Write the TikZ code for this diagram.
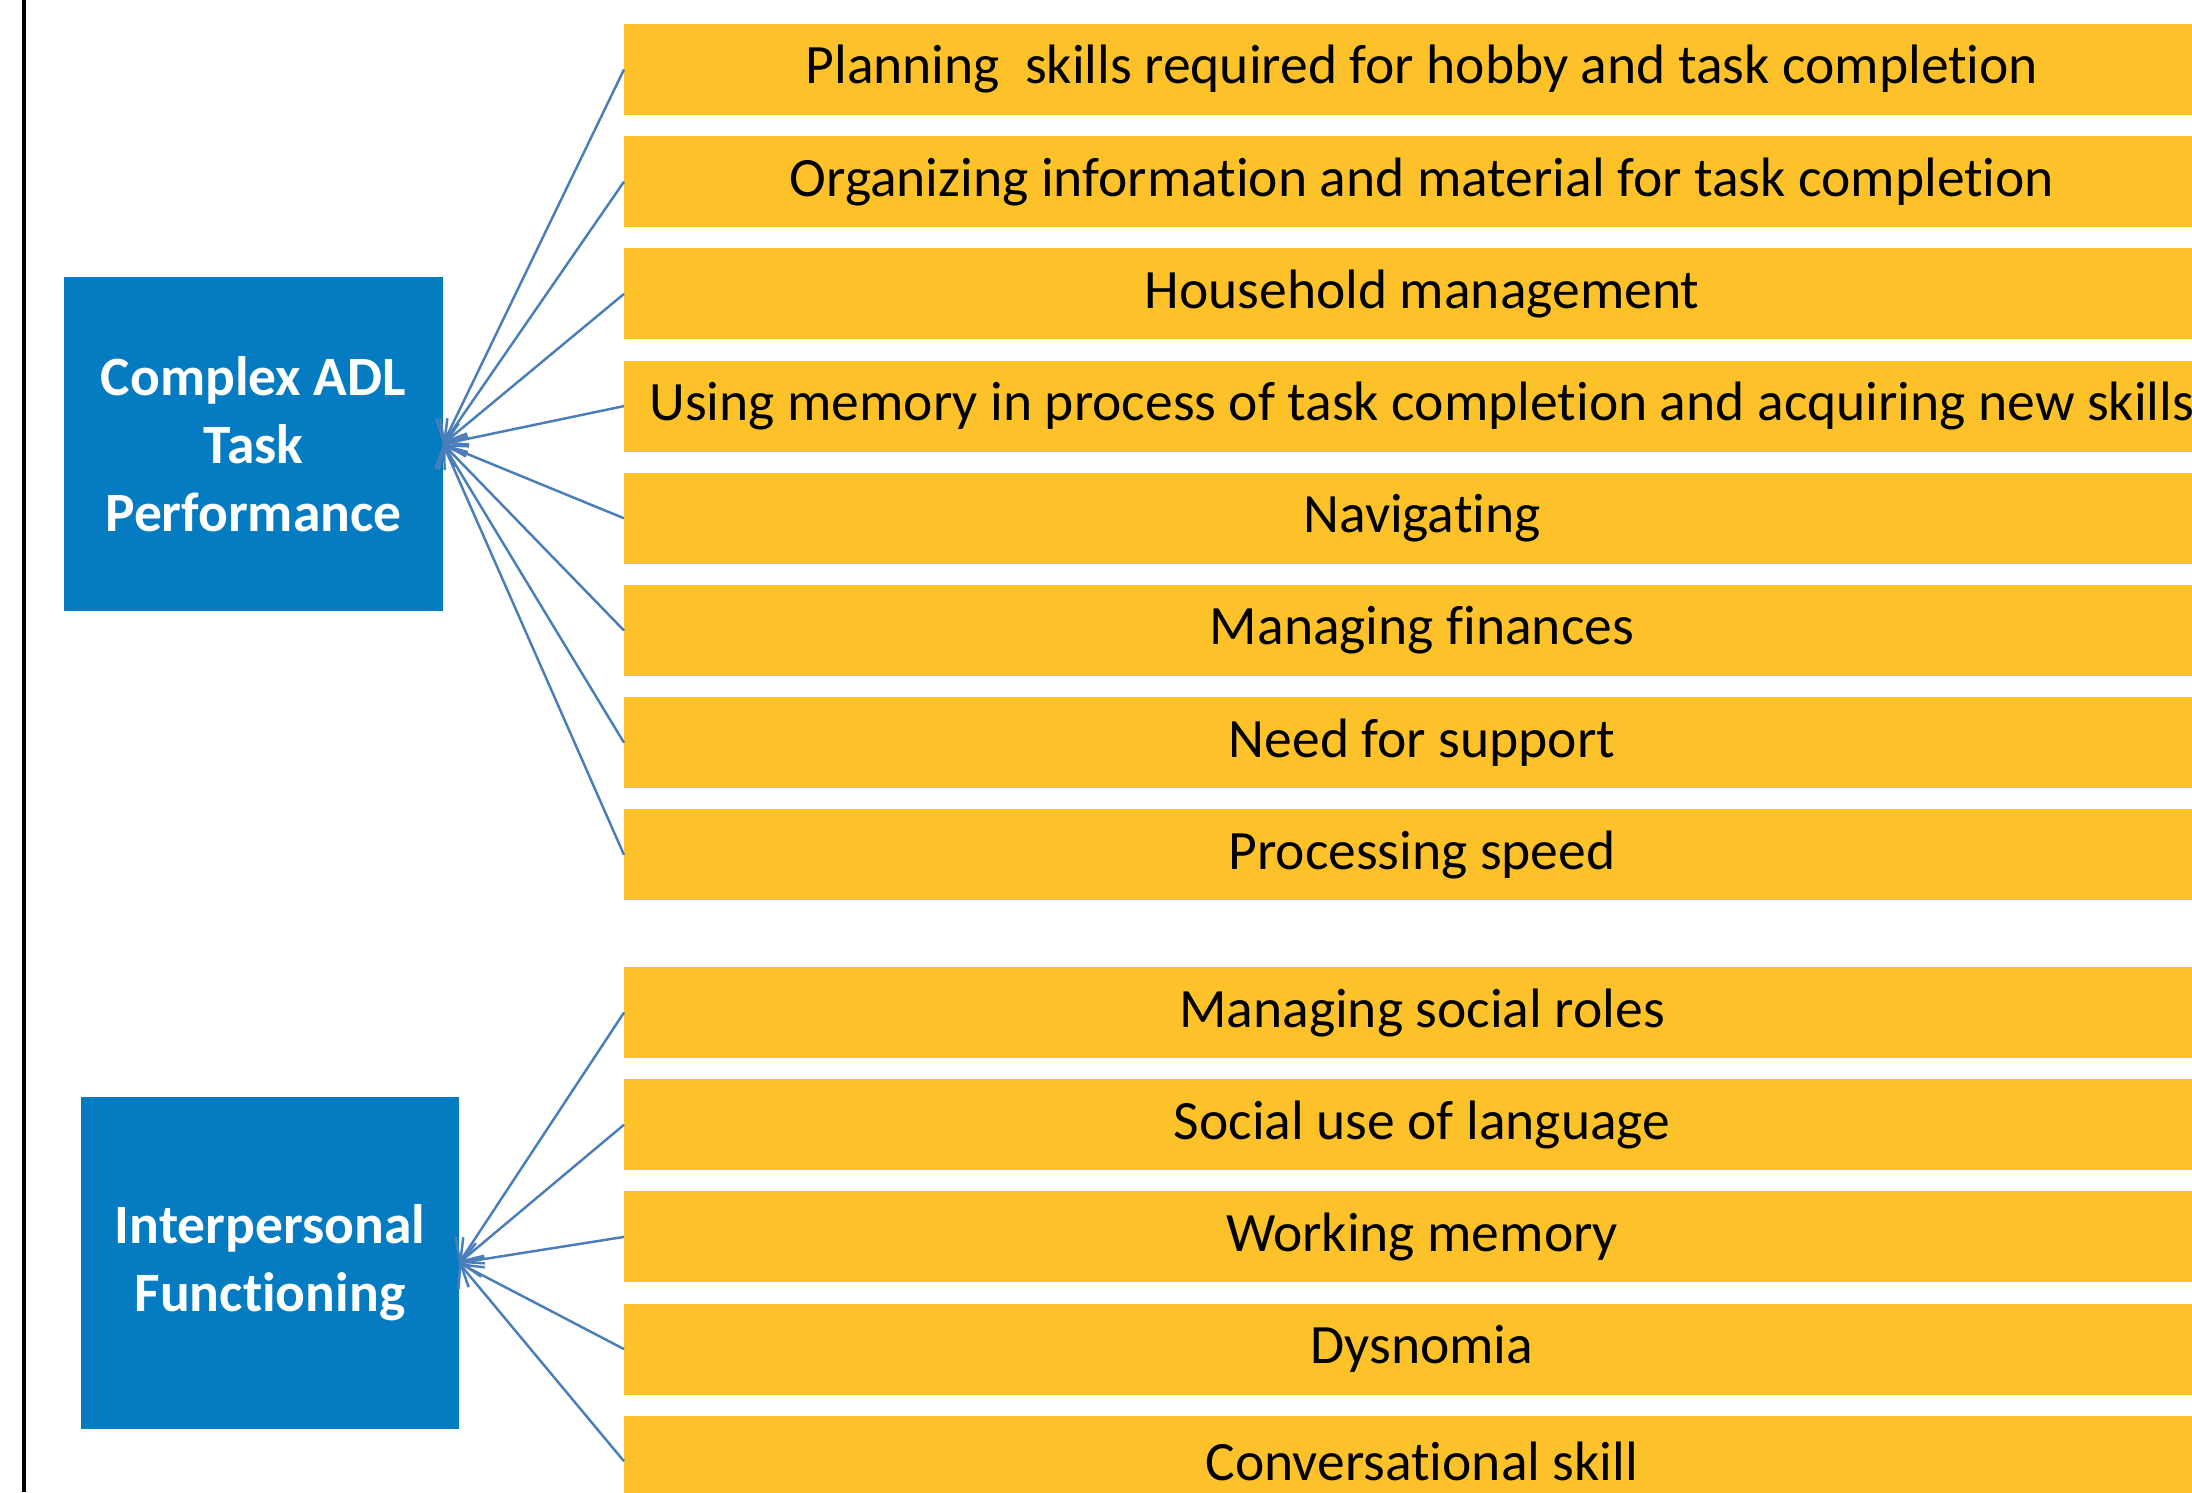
\documentclass[tikz,border=0pt]{standalone}
\usepackage{fontspec}
\setmainfont{Carlito}[Ligatures=NoCommon]
\usetikzlibrary{positioning,arrows.meta}
\definecolor{boxblue}{HTML}{057CC2}
\definecolor{baryellow}{HTML}{FDC22A}
\definecolor{linkblue}{HTML}{4A7EBB}

\begin{document}
\begin{tikzpicture}[->,>={Straight Barb[length=1.8mm,width=3.4mm]},line width=0.7pt,node distance=0.212cm,
    bar node/.style={fill=baryellow,minimum width=15.96cm,minimum height=0.91cm,inner sep=0pt,outer sep=0pt,font=\fontsize{15.8}{19}\selectfont},
    main node/.style={fill=boxblue,text=white,align=center,minimum width=3.79cm,minimum height=3.34cm,outer sep=0pt,font=\fontsize{15.8}{19.3}\selectfont\bfseries}]
                \useasboundingbox (0,0) rectangle (21.92,14.92);
                \draw[-,line width=1.1pt] (0.24,0) -- (0.24,14.92);

                % complex ADL group
                \node[main node] (adl) at (2.535,10.48) {Complex ADL\\Task\\Performance};
                \node[bar node] (plan) at (14.22,14.225) {Planning\ \ skills required for hobby and task completion};
                \node[bar node] (organize) [below=of plan] {Organizing information and material for task completion};
                \node[bar node] (house) [below=of organize] {Household management};
                \node[bar node] (memory) [below=of house] {Using memory in process of task completion and acquiring new skills};
                \node[bar node] (navigate) [below=of memory] {Navigating};
                \node[bar node] (finance) [below=of navigate] {Managing finances};
                \node[bar node] (support) [below=of finance] {Need for support};
                \node[bar node] (speed) [below=of support] {Processing speed};

                % interpersonal group
                \node[main node, minimum width=3.78cm, minimum height=3.32cm] (inter) at (2.70,2.29) {Interpersonal\\Functioning};
                \node[bar node] (roles) at (14.22,4.795) {Managing social roles};
                \node[bar node] (language) [below=of roles] {Social use of language};
                \node[bar node] (working) [below=of language] {Working memory};
                \node[bar node] (dysnomia) [below=of working] {Dysnomia};
                \node[bar node] (convo) [below=of dysnomia] {Conversational skill};

                \path[linkblue]
                    (plan.west) edge (adl.east)
                    (organize.west) edge (adl.east)
                    (house.west) edge (adl.east)
                    (memory.west) edge (adl.east)
                    (navigate.west) edge (adl.east)
                    (finance.west) edge (adl.east)
                    (support.west) edge (adl.east)
                    (speed.west) edge (adl.east)
                    (roles.west) edge (inter.east)
                    (language.west) edge (inter.east)
                    (working.west) edge (inter.east)
                    (dysnomia.west) edge (inter.east)
                    (convo.west) edge (inter.east)
                ;
            \end{tikzpicture}
\end{document}
